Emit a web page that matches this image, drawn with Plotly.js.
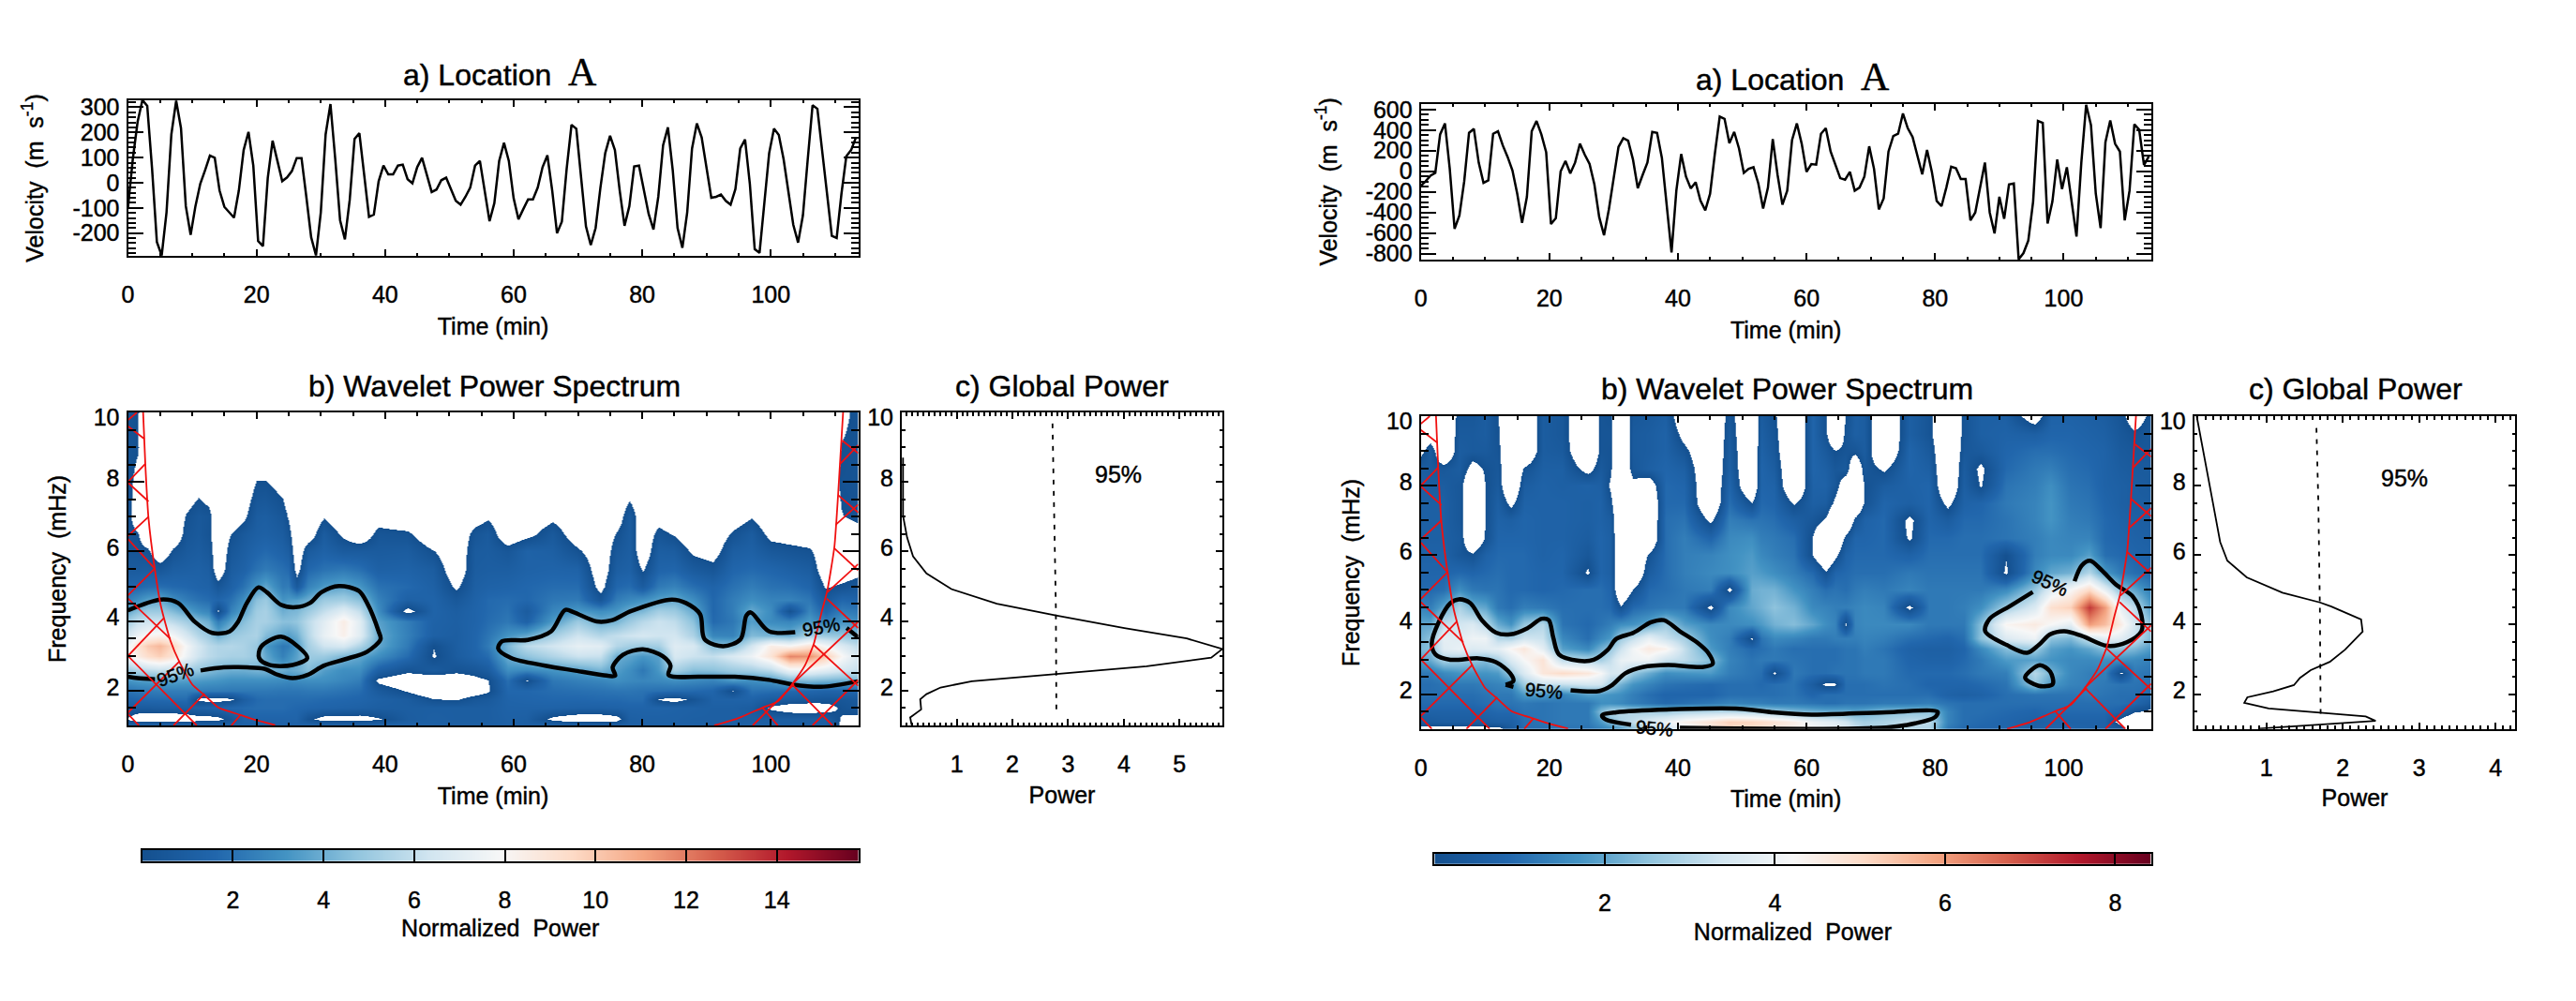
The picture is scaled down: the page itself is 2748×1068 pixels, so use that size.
<!DOCTYPE html>
<html>
<head>
<meta charset="utf-8">
<script src="https://cdn.plot.ly/plotly-3.0.1.min.js"></script>
<style>
body { margin: 0; background: #fff; }
#chart { width: 2748px; height: 1068px; }
/* the original text is a little heavier than regular weight */
#chart svg text { stroke: #000; stroke-width: 0.45px; }
</style>
</head>
<body>
<div id="chart"></div>
<script>
/***** velocity series, one sample every 45 s *****/
var velStep = 0.75;
var velLeft = [-99,93,242,329,306,56,-236,-289,-118,192,326,217,-93,-207,-93,-4,50,108,99,-31,-96,-118,-139,-31,130,202,68,-232,-252,19,167,87,6,21,46,98,98,-56,-217,-289,-118,192,313,93,-149,-225,-68,174,197,31,-136,-127,6,68,33,33,68,72,14,-2,62,99,31,-37,-27,10,20,-25,-72,-87,-56,-19,68,87,-31,-153,-81,87,159,87,-62,-145,-105,-66,-66,-19,62,109,-31,-201,-155,56,230,215,19,-174,-248,-180,-19,118,187,130,-31,-171,-93,65,68,-25,-124,-186,-56,149,220,50,-180,-259,-118,136,236,180,56,-60,-56,-47,-72,-87,-25,136,172,-6,-264,-279,-81,118,215,190,93,-43,-167,-238,-130,93,308,294,130,-31,-211,-220,-43,105,130,180];
var velRight = [-142,-97,-42,-15,358,464,24,-558,-430,-97,373,412,85,-112,-88,364,388,251,139,9,-218,-500,-248,388,488,358,185,-512,-455,0,100,-21,85,267,161,70,-127,-445,-621,-370,-67,236,321,297,115,-164,-36,85,382,373,130,-339,-788,-188,167,-52,-167,-106,-285,-379,-218,176,530,509,273,382,221,-15,24,39,-118,-361,-158,312,-36,-324,-188,303,464,267,-6,70,64,364,418,191,55,-67,-82,-6,-188,-158,-52,242,24,-370,-264,191,342,364,561,418,333,161,-30,206,-6,-288,-339,-158,45,30,-76,-76,-476,-400,-142,85,-400,-603,-248,-461,-127,-118,-854,-794,-673,-294,488,470,-506,-294,115,-173,39,-309,-633,85,645,448,-218,-551,282,494,267,191,-476,-188,455,403,61,145];
var velLeftTicks = [-200,-100,0,100,200,300];
var velLeftLabels = ['-200','-100','0','100','200','300'];
var velRightTicks = [-800,-600,-400,-200,0,200,400,600];
var velRightLabels = ['-800','-600','-400','-200','0','200','400','600'];

/***** wavelet power, one list per time column, bottom to top. below 0 = not filled *****/
var timeLeft = [0,1.5,3,5,7,9,11,12.5,14,16,18,20,21.5,24,25,26.3,28,30.5,33.5,36,39,43.5,47.5,51,54,56,59,62,66,70,73.5,76,78,80,82.5,85,88,91,94,97,100,103,106,108.5,111,113.6];
var freqLeft = [1,1.2,1.5,1.75,2,2.3,2.6,3,3.3,3.6,4,4.3,4.6,5,5.5,6,6.5,7,8,9,10];
var powerLeft = [
  [1.2,-.1,.8,1.5,2,3.2,5,7.5,7.5,6.5,5.2,3.8,2.5,1.5,.8,.4,.3,.3,.3,.3,.3],
  [1.4,-.8,.8,1.6,2.2,3.4,5.5,8.5,9,7.5,6,4.5,3,1.6,.8,.4,.1,-.6,-.3,.1,.1],
  [1.5,-1,.8,1.7,2.3,3.5,5.8,9.3,10,8,6.3,5,3.6,1.8,.9,.2,-1,-1,-1,-1,-1],
  [1.5,-1,.9,1.7,2.4,3.6,6,9.8,10.5,8.3,6.3,5,3.9,1.9,.5,-1,-1,-1,-1,-1,-1],
  [1.5,-1,.9,1.8,2.4,3.6,5.8,9,9.5,7.8,5.8,4.4,3,1.7,1,.2,-1,-1,-1,-1,-1],
  [1.5,-.8,1,1.8,2.4,3.5,5.2,7.5,7.8,6.6,5.2,3.7,2.4,1.6,1.1,.7,.4,.1,-1,-1,-1],
  [1.4,-.5,1.2,-.3,2.4,3.4,4.8,6.3,6.5,5.6,4.5,3,2,1.4,1.2,.9,.7,.6,-.5,-1,-1],
  [1.3,-.5,1.3,-.4,2.3,3.3,4.5,5.8,5.8,5,4,2.7,1.8,1.3,1,.6,.3,.4,-1,-1,-1],
  [1.3,-.3,1.4,-.5,2.3,3.2,4.2,5.5,5.5,4,2.4,-.2,1.5,.5,-1,-1,-1,-1,-1,-1,-1],
  [1.2,.4,1.6,-.2,2.2,3,4,5.3,5.6,4.9,3.7,2.6,2,1.3,.9,.5,.05,-1,-1,-1,-1],
  [1.2,1.3,1.7,1,2.2,3,4,5.3,5.4,5.2,4.5,3.6,3,2,1.3,1,.7,-.3,-1,-1,-1],
  [1.2,1.4,1.8,1.7,2.2,3,4.2,5,4.9,5.4,5.3,5.1,4.6,3.2,2,1.5,1.1,.9,.05,-1,-1],
  [1.2,1.4,1.8,1.8,2.2,3,4.2,3.8,3.4,4.4,5.3,5.3,5,3.8,2.3,1.7,1.2,1,.05,-1,-1],
  [1.2,1.4,1.8,1.8,2.1,2.9,4,2.5,2.2,3.7,4.6,4,3.2,2.3,1.9,1.3,.9,.5,-.45,-1,-1],
  [1.2,1.4,1.7,1.8,2.1,2.8,3.8,3,2.4,3.5,4.6,4.2,3.4,2.4,1.7,1,.4,-.1,-1,-1,-1],
  [1.2,1.4,1.6,1.8,2.1,2.9,4,3.6,3.4,4,4.8,4.3,3.5,.8,-.6,-1,-1,-1,-1,-1,-1],
  [1.4,.3,1.5,1.8,2.2,3,4.5,5,5.2,5.6,5.8,5,4,2.6,1.6,.8,-.8,-1,-1,-1,-1],
  [1.5,-.5,1.4,1.7,2.2,3,3.5,5,6.3,7.3,7,6,5,3.4,2,1.3,.9,-.1,-1,-1,-1],
  [1.5,-.6,1.3,1.6,2,2.7,3,4.3,6.6,8.3,8.5,7,5.2,3.8,2.2,.8,-.25,-1,-1,-1,-1],
  [1.5,-.6,1.2,1.5,1.8,2.4,3,3.8,5.5,7,7,6,4.6,3.3,1.9,.8,-1,-1,-1,-1,-1],
  [1.5,-.1,1,1.2,.8,-.3,1.2,3,3.8,3.9,3.6,3,2.6,2,1.2,.8,.4,-.6,-1,-1,-1],
  [1.4,.9,1,.9,-.1,-1,.3,1.8,2.3,2.5,2.4,-.5,1.2,1.7,1.3,.9,.25,-1,-1,-1,-1],
  [1.2,1.1,1,.05,-1,-1,.8,-.1,.05,1.2,1.3,1.4,1.4,1.2,.9,.05,-1,-1,-1,-1,-1],
  [1.1,1,1,-.1,-1,-.9,.3,.9,1,1,1.1,1,.6,-.2,-1,-1,-1,-1,-1,-1,-1],
  [1.1,1,1,.5,-.6,-.4,.5,1.4,1.5,1.5,1.4,1.4,1.3,1.1,.9,.8,.4,-.6,-1,-1,-1],
  [1.1,1,1,.7,-.15,-.05,.9,1.8,2.3,2.1,1.8,1.7,1.7,1.3,1,.9,.8,-.2,-1,-1,-1],
  [1.2,1.2,1.3,1.4,1.6,1.9,3,4,4.3,3.2,2.2,2,1.8,1.4,1,.5,-1,-1,-1,-1,-1],
  [1.1,1.1,1.3,1.5,1.6,-.1,2.8,4.7,5.8,3.8,1.3,.9,1.6,1.6,1.3,1.3,-.4,-1,-1,-1,-1],
  [1.3,-.3,1.3,1.6,1.8,2.2,3.2,5.5,6.4,5.2,3.4,2.7,2.2,1.8,1.4,1.1,.7,-.3,-1,-1,-1],
  [1.3,-.9,1.2,1.6,1.9,2.5,3.6,6.2,7.2,6.3,5,3.4,2.3,1.8,1.3,.2,-.8,-1,-1,-1,-1],
  [1.2,-.9,1.2,1.7,2,2.7,4.2,6.1,7,5.6,3.9,3,.5,-.5,-1,-1,-1,-1,-1,-1,-1],
  [1.2,-.5,1.3,1.7,2.1,3,3.5,4,5.6,6,4.2,3.3,2.4,1.6,1,.6,.1,-.8,-1,-1,-1],
  [1.2,1.1,1.4,1.8,2.1,2.8,3,3.7,5.2,6.3,5,4,2.8,1.8,1.2,1,.9,.8,-1,-1,-1],
  [1.2,1.2,1.4,1.8,2,2.7,2.2,3.3,5,6.5,5.7,4.3,3.1,.9,-.15,-1,-1,-1,-1,-1,-1],
  [1.2,1.2,1.4,-.1,1.9,2.8,3.3,3.6,5.2,6.3,6.2,5.2,3.6,2.3,1.4,1,.4,-.6,-1,-1,-1],
  [1.2,1.2,1.3,-.5,1.8,3,5.3,6.6,6.9,6.4,5.9,5,3.9,2.6,1.5,.9,-.1,-1,-1,-1,-1],
  [1.2,1.1,1.2,.3,1.7,2.8,4.5,6.2,6.6,5.4,4.6,3.9,3,1.9,.76,-.24,-1,-1,-1,-1,-1],
  [1.1,1.1,1.1,1.3,1.5,2.6,4.6,6,4.6,2.7,1.7,1.6,1.6,1.4,.4,-.6,-1,-1,-1,-1,-1],
  [1.1,1.1,1.1,1.3,-.05,3.3,5,6.7,4.5,2.6,2.2,2.4,2.4,2,1.5,1,.2,-.8,-1,-1,-1],
  [1.3,1,.9,1.4,2,3,5.2,7.5,6.4,4.4,3.5,3.9,3,2.4,1.7,1.2,.9,-.1,-1,-1,-1],
  [1.1,1,-.2,.9,1.9,3.2,5.8,9,8.5,4.2,2.9,2.9,2.6,2,1.5,.6,-.4,-1,-1,-1,-1],
  [1,1,-.7,.8,1.7,4.2,7.5,11.8,8,4,2.7,.2,2.6,1.9,1.2,.4,-.6,-1,-1,-1,-1],
  [1,1,-.8,.6,1.6,4.4,7.5,11.5,9,5.3,3.4,2.7,2.2,1.5,.9,.2,-.8,-1,-1,-1,-1],
  [1,1,-.6,.5,1.4,4.2,7,10,7.8,5,2.4,1.4,.7,-.1,-1,-1,-1,-1,-1,-1,-1],
  [-.2,-.1,.2,.5,1.4,4,6.5,8,6.8,4.8,3.2,2.4,1.6,.2,-.8,-1,-1,-.05,.2,.05,-.3],
  [-.6,-.3,.5,.7,1.5,4,6,6.6,5.8,4.5,3,2.2,1.4,.6,-.5,-1,-.5,.3,.3,.3,.3]
];

var timeRight = [0,1.5,3.5,6,8,10,12,14,16,19,22,26,28,29.5,31,33,35.5,38,41,45,48,51.5,53,55,58,61,63,64.5,66,67.5,69,72,76,79,82,84.5,87,91,95.5,98,101,104,106.5,109,111,113.6];
var freqRight = [1,1.2,1.5,1.75,2,2.3,2.6,3,3.3,3.6,4,4.5,5,5.5,6,6.5,7,7.5,8,8.5,9,9.5,10];
var powerRight = [
  [-.3,.4,.7,.9,1,1,1.2,1.9,2.3,2.2,2,1.4,.9,.8,.7,.6,.6,.6,.6,.5,-.2,-1,-1],
  [-.3,.4,.7,.9,1,1,1.2,2.1,2.4,2.5,2,1.3,.9,.8,.7,.6,.6,.6,.5,.4,.5,-.6,-1],
  [-.4,.5,.7,.9,1,1.1,1.5,2.8,3.7,3.8,3.2,2,1,.8,.7,.6,.6,.6,.5,.3,-1,-1,-1],
  [-.4,.5,.7,.9,1,1.2,1.7,2.7,3.9,3.7,3.4,2.9,1.6,.9,.3,.4,.3,.3,.3,.5,.5,.4,.3],
  [-.4,.5,.7,.9,1,1.2,1.7,2.6,3.6,4,3.6,2.2,1.2,.8,.1,-1,-1,-1,-1,-.3,.4,.4,.3],
  [-.3,.5,.8,1,1.1,1.3,1.7,2.4,3.7,4,3,2,1.1,.9,.7,.1,.05,.05,.05,.1,.4,.5,.5],
  [-.3,.6,.9,1.1,1.2,1.4,1.8,2.8,3.8,3,2.1,1.2,1.1,1,.9,.8,.7,.6,.4,.3,.2,.1,.05],
  [.4,.6,.9,1.1,1.2,1.5,2.7,3.6,4.3,2.9,1.7,1,.9,.9,.9,.8,.6,-.2,-1,-1,-1,-1,-1],
  [1,1,1.1,1.2,1.8,2.7,3.6,4.2,4.7,3.4,2.6,1.3,.9,.9,.9,.8,.8,.7,.5,.1,-1,-1,-1],
  [1,1.1,1.1,1.1,1.8,3.2,4.7,4.8,3.8,3.3,3,1.2,.8,.8,.7,.7,.7,.7,.7,.6,.5,.5,.5],
  [1.1,1.2,1.2,1.2,1.4,3.2,5,3.1,1.9,1.5,1.1,1,.9,.8,.8,.7,.7,.7,.6,.6,.4,.3,.3],
  [1.1,1.2,1.2,1.2,1.9,3.4,4.7,2.9,1.5,1,.9,1,1,-.1,.3,.5,.6,.6,.7,-.3,-1,-1,-1],
  [1.3,1.8,2.4,1.6,1.8,3.4,4.2,2.8,2.2,1.5,1.1,1,1,.8,.8,.8,.7,.7,.6,.4,.2,.2,.2],
  [1.5,2.3,2.9,1.6,1.7,2.8,3.5,3.2,2.6,1.8,1.3,.9,.8,.6,.6,.6,.5,.2,-.1,.1,.15,.2,.1],
  [1.7,2.9,3,1.5,1.6,2.2,3.5,3.9,3.3,2.7,1.6,.1,-1,-1,-1,-1,-1,-1,-1,-1,-1,-1,-1],
  [2.4,3.2,2.9,1.3,1.3,1.7,2.6,4,4.1,3.2,1.7,.9,.02,-1,-1,-1,-1,-1,-.2,.3,.4,.4,.3],
  [3,3.6,2.8,1.1,1,1.4,2.1,4,4.6,3.9,2,1.1,.9,.5,.1,-1,-1,-1,-.6,.6,.5,.5,.4],
  [3.3,4,2.7,.9,.8,1.1,1.6,3.3,4.4,3.3,2.7,1.2,1,1,1,1,1,.9,.9,.8,.7,.7,.6],
  [3.8,4.4,2.9,1,.8,1,1.7,3.1,3.2,2.8,1.9,1.2,1.2,1.3,1.3,1.3,1.1,.9,.8,.6,.2,-.3,-.8],
  [4.5,4.8,3,1.2,.8,.9,1.8,2.4,1.8,1.6,1.5,-.2,1.3,1.5,1.4,.8,-.15,-1,-1,-1,-1,-1,-1],
  [5,5.2,3,1.4,1,1,1.3,1.4,1.3,1.3,1.5,1.5,-.2,1.6,1.6,1.5,1.3,1,.8,.6,.5,.4,.3],
  [5,5.1,2.9,1.3,1,1,1.1,1.1,.9,-.1,1.6,2,2.1,1.9,1.8,1.6,1.1,.05,-1,-1,-1,-1,-1],
  [4.8,5,2.8,1.3,1,.9,1,1.2,1,1.1,1.8,2.2,2.2,1.8,1.5,1.3,1.1,.9,.8,.8,.7,.6,.5],
  [4.6,4.8,2.7,1.2,1,1,-.1,1.2,1.2,1.5,2.2,2.5,2.2,1.6,1.3,1.2,1,.8,.7,.5,.3,.2,.1],
  [4.4,4.5,2.4,1.2,1.1,1.1,1.2,1.1,1,1.4,2.4,2.2,1.7,1.3,1.1,1,.6,-.05,-1,-1,-1,-1,-1],
  [4.2,4,2.2,1.1,.8,.5,1,1,1,1.2,2,1.5,1.3,.9,-.05,-.05,.3,.6,.7,.8,.8,.8,.8],
  [4,3.8,2.1,1,1,-.15,1,1,1,1.2,1.6,1.4,1,.1,-1,-1,-.1,.5,.7,.6,.4,.1,.05],
  [3.9,3.7,2.1,1,1,-.1,1.1,1,1,1.3,1.4,1.3,1.1,.8,-.2,-1,-1,-.2,.3,.3,.02,-1,-1],
  [3.7,3.4,2.1,1.1,1,1,1.1,1.1,1.1,1.3,-.1,1.3,1,.9,.7,.2,-1,-1,-.6,.4,.2,.2,.02],
  [3.3,3,2,1.1,1,1,1.1,1.1,1.1,1.3,1.4,1.4,1.2,1,.9,.8,.2,-1,-1,-.8,.2,.6,.6],
  [3,2.8,2.1,1.1,1,1,1.2,1.2,1.3,1.4,1.5,1.5,1.3,1,.9,.8,.7,.1,.05,.3,.5,.5,.5],
  [2.9,2.9,2.4,1.2,1,1.1,1.2,1.2,1.1,1.3,1.5,1.4,1.2,1,.9,.9,.9,.8,.5,-.1,-1,-1,-1],
  [3,3.2,2.5,1.2,1,1,.9,.8,.7,1,1.5,-.2,1.4,1.2,.7,-.1,-.2,.6,.7,.8,.8,.6,.6],
  [2.9,3.1,2.5,1.3,1,.8,.9,.7,.6,.9,1.2,1.2,1.2,1.1,1,.9,.8,.8,.8,.6,.4,.2,.2],
  [1.2,1.4,1.4,1.1,.7,.8,.9,.7,.6,.8,1.2,1.2,1.2,1.1,1,.9,.5,-.2,-1,-1,-1,-1,-1],
  [.9,1,1,1,.6,.8,1,.9,.8,1,1.2,1.3,1.2,1.1,1,1,.9,.7,.6,.5,.3,.2,.2],
  [.8,.9,1,1,.7,.9,1.2,1.2,1.5,2.5,2.4,1.6,1.2,1.1,1,1,.9,.8,-.05,-.15,.4,.6,.6],
  [.8,.8,.9,1,1,1.1,1.3,1.8,2.4,3.6,4.3,2.7,1.5,-.1,.05,1.1,1.1,1.2,1.1,.9,.8,.7,.6],
  [.7,.6,.8,1,1.1,2.6,3,1.9,2.7,4,4.6,3.6,2.6,1.5,1.3,1.3,1.4,1.4,1.3,1.2,1,.6,-.5],
  [.8,.7,.9,1,1.1,1.8,2.2,1.7,1.9,2.5,4.2,4.9,3.7,2,1.5,1.5,1.7,1.7,1.6,1.3,1,.8,.7],
  [.8,.7,.9,1,1.1,1.4,1.5,1.5,1.7,2.3,3.8,5.2,4.2,2.2,1.5,1.4,1.3,1.2,1.1,1,.9,.8,.7],
  [.7,.7,.9,1,1.2,1.3,1.3,1.5,2,3.3,6,7.2,5,3,1.9,1.4,1.2,1.1,1,.9,.8,.7,.6],
  [.7,.7,.9,1,1.1,1.2,1.3,1.6,2.5,3.8,5.5,6,3.8,1.8,1,.9,.9,.8,.7,.7,.7,.6,.5],
  [.5,-.4,.7,1,1,1.1,-.1,1.6,2.5,3.7,4.5,3.8,2.4,1.2,.9,.8,.7,.6,.6,.5,.4,.3,.2],
  [-1,-1,.1,.9,1,1.1,1.2,1.5,2.3,3.2,3.5,3.1,2,1,.8,.7,.6,.5,.5,.4,.3,.1,-.4],
  [-1,-1,-.2,.4,.9,1,1.1,1.3,1.8,2.3,2.4,1.8,1.3,.8,.7,.6,.5,.5,.4,.4,.3,.3,.2]
];

/***** 95% contours, null between separate pieces *****/
var sigTimeLeft = [0,5.1,7.8,10.4,13.1,15.8,17.1,18.5,20.3,21.6,23.8,26.1,28.3,30.1,32.8,35.9,37.2,39,39.3,37.2,33.7,30.5,27.9,25.6,23.4,21.2,18.5,14.9,11.3,null,4.2,1.5,0,null,
  23.8,20.7,20.4,22,25.6,27.9,26.5,23.8,null,
  113.6,107.8,103.3,99.7,94.4,89,84.1,84.4,83.2,80.1,77,75.4,75.8,73.8,69.4,64.9,59.6,57.6,58.2,62.2,65.8,68,69.4,72.9,75.2,78.3,84.6,86.8,89,89.7,92.6,95.3,96.2,96.9,99.7,103.8,null,111.8,113.6];
var sigFreqLeft = [4.31,4.62,4.52,3.98,3.66,3.7,3.97,4.52,4.97,4.83,4.47,4.4,4.52,4.83,5.01,4.87,4.52,3.7,3.48,3.12,2.9,2.72,2.45,2.36,2.45,2.63,2.67,2.67,2.58,null,2.33,2.36,2.4,null,
  3.55,3.26,2.94,2.74,2.74,2.94,3.26,3.55,null,
  2.27,2.11,2.18,2.31,2.4,2.4,2.45,2.72,2.99,3.19,3.03,2.67,2.43,2.45,2.58,2.72,2.94,3.21,3.42,3.46,3.7,4.32,4.25,3.99,4.02,4.29,4.62,4.52,4.2,3.48,3.28,3.48,4.16,4.25,3.71,3.68,null,3.8,3.53];
var sigTimeRight = [14.4,13.2,null,23.3,27.8,29.6,31.8,34.5,38.5,43.8,45.4,44.7,42.9,40.3,37.8,35.8,33.1,30.4,29.1,26.9,24.6,21.5,20.6,19.9,18.8,16.6,13.9,11.7,9.5,7.7,5.9,4.6,2.8,1.7,2.3,4.6,9,11.7,13.9,14.4,13.2,null,
  95.2,91.6,88.5,87.8,91.2,94.3,96.1,97.9,100.1,102.8,106.8,109.9,112.1,112.1,110.8,108.1,105.9,104.1,102.8,101.7,null,
  96.3,94,96.1,98.3,97.9,96.3,null,
  40.3,72.4,76.9,80,80.4,72.4,60.8,54.6,49.6,40.3,30.4,28.2,28.7,32.7];
var sigFreqRight = [2.21,2.27,null,2.11,2.09,2.24,2.6,2.78,2.84,2.78,2.87,3.19,3.5,3.81,4.13,4.07,3.77,3.59,3.28,2.99,2.96,3.14,3.63,4.13,4.17,3.9,3.72,3.77,4.13,4.62,4.73,4.62,4.08,3.46,3.14,2.99,3.03,2.92,2.6,2.38,2.27,null,
  4.94,4.53,4.17,3.81,3.41,3.19,3.41,3.72,3.81,3.68,3.39,3.5,3.81,4.26,4.8,5.16,5.57,5.84,5.7,5.25,null,
  2.83,2.48,2.24,2.29,2.65,2.83,null,
  1.03,1.04,1.16,1.34,1.49,1.48,1.41,1.48,1.58,1.57,1.48,1.39,1.28,1.12];

/***** cone of influence and its hatching, same for both locations *****/
var coiTime = [2.36,2.7,3.2,4.16,5.13,6.6,8.05,10,11.9,14.1,17.5,20,22.9,null,111.25,110.47,109.9,108.8,107.9,106.7,105.3,103.3,101.1,98.7,94.8,91.2];
var coiFreq = [10,8.52,6.95,5.51,4.43,3.44,2.81,2.18,1.87,1.51,1.3,1.15,1.01,null,10,7.62,6.14,4.88,4.25,3.35,2.72,2.18,1.69,1.51,1.2,1];
var hatchTime = [0,1.4,null,0,2.7,null,0,3.2,null,0,4.16,null,0,5.6,null,0,8.05,null,7.1,11.9,null,16.1,17.5,null,0,2.55,null,0,3.2,null,0,4.16,null,0,6.6,null,0,10.7,null,0,1.7,null,
  111.1,113.6,null,110.5,113.6,null,109.9,113.6,null,108.7,113.6,null,106.7,113.6,null,103.3,109.6,null,98.7,101.1,null,110.8,113.6,null,110.1,113.6,null,108.8,113.6,null,103.3,113.6,null,97.2,103.6,null,106.5,113.6];
var hatchFreq = [9.78,10,null,8,8.52,null,6.45,7,null,4.74,5.51,null,3,4.09,null,1.37,2.85,null,1,1.91,null,1,1.3,null,9.6,9.24,null,7.98,7.44,null,6.36,5.51,null,4.65,3.49,null,3,1,null,1.33,1,null,
  9.19,8.83,null,7.62,7.12,null,6.09,5.46,null,4.65,3.8,null,3.31,2.14,null,2.18,1,null,1.51,1,null,8.52,9.06,null,6.77,7.35,null,4.83,5.64,null,2.18,3.98,null,1,2.18,null,1,2.3];

/***** global power *****/
var globalLeftPower = [.036,.036,.11,.216,.457,.905,1.72,2.78,4.01,5.13,5.77,5.57,4.41,2.78,1.27,.71,.457,.345,.362,.165,.19];
var globalLeftFreq = [8.7,7.03,6.4,5.86,5.37,4.92,4.5,4.16,3.8,3.5,3.2,2.95,2.7,2.47,2.27,2.09,1.9,1.75,1.46,1.23,1.02];
var levelLeftPower = [2.72,2.74,2.77,2.78,2.79];
var levelLeftFreq = [9.68,8.02,6.22,4.43,1.28];
var globalRightPower = [.087,.169,.292,.394,.488,.742,1.21,1.7,1.85,2.24,2.26,2.03,1.83,1.58,1.44,1.36,1.09,.75,.71,1.03,1.7,2.3,2.43,1.68,.906];
var globalRightFreq = [10,8.99,7.59,6.38,5.84,5.36,4.92,4.64,4.52,4.15,3.8,3.28,2.93,2.69,2.47,2.26,2.08,1.91,1.75,1.59,1.46,1.36,1.23,1.12,1.01];
var levelRightPower = [1.655,1.68,1.7,1.71];
var levelRightFreq = [9.66,7.5,4.5,1.39];

/***** colour bars *****/
var barLeftLevels = [0,2,4,6,8,10,12,14,15.8];
var barRightLevels = [0,2,4,6,8,8.42];
var barLeftTicks = [2,4,6,8,10,12,14];
var barRightTicks = [2,4,6,8];
var freqLabelAt = [2,4,6,8,9.76];
var freqLabels = ['2','4','6','8','10'];

var FONT = '"Liberation Sans", Arial, sans-serif';
var W = 2748, H = 1068;
var rampAt = [0,.1,.2,.3,.4,.5,.6,.7,.8,.9,1];
var rampColors = ['#14508f','#2166ac','#4393c3','#92c5de','#d1e5f0','#f7f7f7','#fddbc7','#f4a582','#d6604d','#b2182b','#67001f'];

function ramp() {
  return rampAt.map(function(t, i) { return [t, rampColors[i]]; });
}
// white under zero, then the ramp, with a hard edge like the unfilled areas
function spectrumScale(zmax) {
  var p = 1 / (zmax + 1);
  var out = [[0, '#ffffff'], [p, '#ffffff']];
  rampAt.forEach(function(t, i) { out.push([p + (1 - p) * t, rampColors[i]]); });
  out[out.length - 1][0] = 1;
  return out;
}
function domX(a, b) { return [a / W, b / W]; }
function domY(top, bottom) { return [1 - bottom / H, 1 - top / H]; }

function axis(o) {
  var ax = {
    showline: true, mirror: 'ticks', linecolor: '#000', linewidth: 2,
    ticks: 'inside', tickwidth: 2, tickcolor: '#000', ticklen: 7,
    showgrid: false, zeroline: false, automargin: false, fixedrange: true,
    tickfont: {family: FONT, size: 25, color: '#000'}
  };
  for (var k in o) ax[k] = o[k];
  return ax;
}
function axisTitle(text, standoff) {
  return {text: text, standoff: standoff, font: {family: FONT, size: 25, color: '#000'}};
}
function minor(dtick, tick0, len) {
  return {ticks: 'inside', tickmode: 'linear', dtick: dtick, tick0: tick0, ticklen: len, tickwidth: 1.5, tickcolor: '#000', showgrid: false};
}
function timeAxis(dom, anchor) {
  return axis({domain: dom, anchor: anchor, range: [0, 113.6], tickmode: 'linear', tick0: 0, dtick: 20,
    minor: minor(5, 0, 3.5), ticklabelstandoff: 18, title: axisTitle('Time (min)', 12)});
}

var data = [];
var layout = {
  width: W, height: H, margin: {l: 0, r: 0, t: 0, b: 0},
  paper_bgcolor: '#fff', plot_bgcolor: '#fff', showlegend: false,
  font: {family: FONT, size: 25, color: '#000'},
  annotations: []
};

function heading(text, x, y) {
  layout.annotations.push({text: text, xref: 'paper', yref: 'paper', x: x / W, y: 1 - y / H,
    xanchor: 'center', yanchor: 'middle', showarrow: false, font: {family: FONT, size: 32, color: '#000'}});
}
function sigLabel(xa, ya, t, f, angle, size) {
  layout.annotations.push({text: '95%', xref: xa, yref: ya, x: t, y: f, textangle: angle,
    xanchor: 'center', yanchor: 'middle', showarrow: false, font: {family: FONT, size: size, color: '#000'}});
}

// one full figure: velocity, wavelet, global power, colour bar
function figure(p) {
  var n = p.n;
  var xa = n + 1, xb = n + 2, xc = n + 3, xd = n + 4;
  var la = n === 0 ? 9 : 11, lc = la + 1;
  function name(i) { return i === 1 ? '' : String(i); }

  data.push({type: 'scatter', mode: 'lines', x0: 0, dx: velStep, y: p.vel, xaxis: 'x' + name(xa), yaxis: 'y' + name(xa),
    line: {color: '#000', width: 2.5}});
  data.push({type: 'heatmap', x: p.time, y: p.freq, z: p.power, transpose: true, zsmooth: 'best', zmin: -1, zmax: p.zmax,
    colorscale: spectrumScale(p.zmax), showscale: false, xaxis: 'x' + xb, yaxis: 'y' + xb});
  data.push({type: 'scatter', mode: 'lines', x: p.sigT, y: p.sigF, xaxis: 'x' + xb, yaxis: 'y' + xb,
    line: {color: '#000', width: 4.5, shape: 'spline', smoothing: 0.9}});
  data.push({type: 'scatter', mode: 'lines', x: coiTime, y: coiFreq, xaxis: 'x' + xb, yaxis: 'y' + xb,
    line: {color: '#f01010', width: 1.8, shape: 'spline', smoothing: 0.5}});
  data.push({type: 'scatter', mode: 'lines', x: hatchTime, y: hatchFreq, xaxis: 'x' + xb, yaxis: 'y' + xb,
    line: {color: '#f01010', width: 1.8}});
  data.push({type: 'scatter', mode: 'lines', x: p.globP, y: p.globF, xaxis: 'x' + xc, yaxis: 'y' + xc,
    line: {color: '#000', width: 1.8}});
  data.push({type: 'scatter', mode: 'lines', x: p.levP, y: p.levF, xaxis: 'x' + xc, yaxis: 'y' + xc,
    line: {color: '#000', width: 1.8, dash: '5px,7px'}});
  data.push({type: 'heatmap', x: p.bar, y: [0, 1], z: [p.bar, p.bar], zsmooth: 'best', zmin: 0, zmax: p.zmax,
    colorscale: ramp(), showscale: false, xaxis: 'x' + xd, yaxis: 'y' + xd});
  // label axes carry only numbers, so the top "10" can sit below the frame
  data.push({type: 'scatter', mode: 'lines', x: [], y: [], xaxis: 'x' + xb, yaxis: 'y' + la});
  data.push({type: 'scatter', mode: 'lines', x: [], y: [], xaxis: 'x' + xc, yaxis: 'y' + lc});

  layout['xaxis' + name(xa)] = timeAxis(domX(p.left, p.right), 'y' + name(xa));
  layout['yaxis' + name(xa)] = axis({domain: domY(p.aTop, p.aBottom), anchor: 'x' + name(xa), range: p.velRange,
    tickmode: 'array', tickvals: p.velTicks, ticktext: p.velLabels, ticklen: 16,
    minor: minor(p.velMinor, 0, 8), ticklabelshift: -5.5, ticklabelstandoff: 2,
    title: axisTitle('Velocity  (m  s<sup>-1</sup>)', p.velStand)});

  layout['xaxis' + xb] = timeAxis(domX(p.left, p.right), 'y' + xb);
  layout['yaxis' + xb] = axis({domain: domY(p.bTop, p.bBottom), anchor: 'x' + xb, range: [1, 10],
    tickmode: 'linear', tick0: 0, dtick: 2, ticklen: 17, minor: minor(0.5, 0, 8), showticklabels: false});
  layout['yaxis' + la] = axis({overlaying: 'y' + xb, anchor: 'x' + xb, side: 'left', range: [1, 10], showline: false, ticks: '',
    tickmode: 'array', tickvals: freqLabelAt, ticktext: freqLabels, ticklabelshift: -4, ticklabelstandoff: 8,
    title: axisTitle('Frequency  (mHz)', 21)});

  layout['xaxis' + xc] = axis({domain: domX(p.cLeft, p.cRight), anchor: 'y' + xc, range: p.globRange,
    tickmode: 'array', tickvals: p.globTicks, ticklabelstandoff: 18, minor: minor(0.1, 0, 3.5),
    title: axisTitle('Power', 11)});
  layout['yaxis' + xc] = axis({domain: domY(p.bTop, p.bBottom), anchor: 'x' + xc, range: [1, 10],
    tickmode: 'linear', tick0: 0, dtick: 2, minor: minor(0.5, 0, 3.5), showticklabels: false});
  layout['yaxis' + lc] = axis({overlaying: 'y' + xc, anchor: 'x' + xc, side: 'left', range: [1, 10], showline: false, ticks: '',
    tickmode: 'array', tickvals: freqLabelAt, ticktext: freqLabels, ticklabelshift: -4, ticklabelstandoff: 8});

  layout['xaxis' + xd] = axis({domain: domX(p.barLeft, p.barRight), anchor: 'y' + xd, range: [0, p.bar[p.bar.length - 1]],
    tickmode: 'array', tickvals: p.barTicks, ticklen: 12, ticklabelstandoff: 18, title: axisTitle('Normalized  Power', 9)});
  layout['yaxis' + xd] = axis({domain: domY(p.barTop, p.barBottom), anchor: 'x' + xd, range: [0, 1], ticks: '', showticklabels: false});

  heading('a) Location  <span style="font-family:Liberation Serif;font-size:42px">A</span>', p.titleA[0], p.titleA[1]);
  heading('b) Wavelet Power Spectrum', p.titleB[0], p.titleB[1]);
  heading('c) Global Power', p.titleC[0], p.titleC[1]);
  sigLabel('x' + xc, 'y' + xc, p.globNote, 8.22, 0, 25);
}

figure({
  n: 0, left: 136.5, right: 915.5, aTop: 106.7, aBottom: 273.3, bTop: 440, bBottom: 774,
  cLeft: 962, cRight: 1304, barLeft: 151.7, barRight: 915.7, barTop: 906.7, barBottom: 918.7,
  vel: velLeft, velRange: [-292, 329], velTicks: velLeftTicks, velLabels: velLeftLabels, velMinor: 20, velStand: 24,
  time: timeLeft, freq: freqLeft, power: powerLeft, zmax: 15.8, sigT: sigTimeLeft, sigF: sigFreqLeft,
  globP: globalLeftPower, globF: globalLeftFreq, levP: levelLeftPower, levF: levelLeftFreq,
  globRange: [0.014, 5.77], globTicks: [1, 2, 3, 4, 5], globNote: 3.91,
  bar: barLeftLevels, barTicks: barLeftTicks,
  titleA: [533, 77], titleB: [527, 412], titleC: [1133, 412]
});
figure({
  n: 4, left: 1515.7, right: 2294.7, aTop: 110.7, aBottom: 277, bTop: 444, bBottom: 777.7,
  cLeft: 2340.7, cRight: 2683.3, barLeft: 1530.4, barRight: 2294.5, barTop: 910.7, barBottom: 922,
  vel: velRight, velRange: [-857, 655], velTicks: velRightTicks, velLabels: velRightLabels, velMinor: 50, velStand: 23,
  time: timeRight, freq: freqRight, power: powerRight, zmax: 8.42, sigT: sigTimeRight, sigF: sigFreqRight,
  globP: globalRightPower, globF: globalRightFreq, levP: levelRightPower, levF: levelRightFreq,
  globRange: [0.054, 4.26], globTicks: [1, 2, 3, 4], globNote: 2.81,
  bar: barRightLevels, barTicks: barRightTicks,
  titleA: [1913, 82], titleB: [1906, 415], titleC: [2512.5, 415]
});

sigLabel('x2', 'y2', 7.3, 2.45, -20, 20);
sigLabel('x2', 'y2', 107.8, 3.84, -10, 20);
sigLabel('x6', 'y6', 19.1, 2.09, 5, 20);
sigLabel('x6', 'y6', 97.9, 5.21, 25, 20);
sigLabel('x6', 'y6', 36.4, 1.03, 5, 20);

Plotly.newPlot('chart', data, layout, {displayModeBar: false, responsive: false});
</script>
</body>
</html>
